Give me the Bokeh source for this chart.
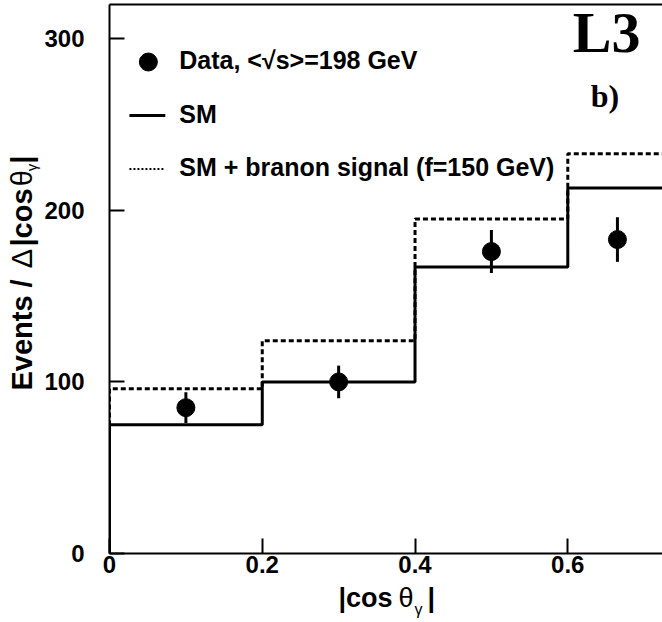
import math
from bokeh.plotting import figure
from bokeh.layouts import row, column
from bokeh.models import Range1d, FixedTicker, LinearAxis, ColumnDataSource
from bokeh.core.properties import value
from bokeh.embed import file_html
from bokeh.resources import INLINE

# ---- data ----
bin_edges = [0.0, 0.2, 0.4, 0.6, 0.8]
sm_values = [75, 100, 167, 213]
signal_values = [96, 124, 195, 233]
data_x = [0.1, 0.3, 0.5, 0.665]
data_y = [85, 100, 176, 183]
data_err = [9, 9.5, 12.5, 13]
x_ticks = [0, 0.2, 0.4, 0.6]
x_tick_labels = ["0", "0.2", "0.4", "0.6"]
y_ticks = [0, 100, 200, 300]
y_tick_labels = ["0", "100", "200", "300"]

XMAX = 0.724
YMAX = 320.0
W, H = 662, 622
WL = 41            # left strip (y-axis title)
HM = 583           # height of main row
FL, FR, FT, FB = 107, 662, 4, 553   # frame edges in page pixels
BASE = 0.4         # baseline correction (em) of the text renderer
YSHIFT = 12        # downward shift of the rotated title

def dx(px):
    return (px - FL) * XMAX / (FR - FL)

def dy(py):
    return (FB - py) * YMAX / (FB - FT)

def step_xy(edges, vals):
    xs = [edges[0]]
    ys = [0]
    for i, v in enumerate(vals):
        xs += [edges[i], edges[i + 1]]
        ys += [v, v]
    return xs, ys

def plain(fig):
    fig.outline_line_color = None
    fig.grid.visible = False
    fig.background_fill_color = "white"
    fig.border_fill_color = "white"

p = figure(width=W - WL, height=HM, x_range=Range1d(0, XMAX), y_range=Range1d(0, YMAX),
           output_backend="svg", toolbar_location=None)
p.min_border_left = FL - WL
p.min_border_right = 0
p.min_border_top = FT
p.min_border_bottom = HM - FB
plain(p)

for ax in (p.xaxis[0], p.yaxis[0]):
    ax.axis_line_width = 2
    ax.axis_line_color = "black"
    ax.major_tick_line_width = 2
    ax.major_tick_line_color = "black"
    ax.major_tick_in = 15
    ax.major_tick_out = 0
    ax.minor_tick_in = 0
    ax.minor_tick_out = 0
    ax.major_label_text_font = "Liberation Sans"
    ax.major_label_text_font_size = "24px"
    ax.major_label_text_font_style = "bold"
    ax.major_label_text_color = "black"

p.xaxis.ticker = FixedTicker(ticks=x_ticks)
p.xaxis.major_label_overrides = {t: l for t, l in zip(x_ticks, x_tick_labels)}
p.xaxis.major_label_standoff = 2
p.yaxis.ticker = FixedTicker(ticks=y_ticks)
p.yaxis.major_label_overrides = {t: l for t, l in zip(y_ticks, y_tick_labels)}
p.yaxis.major_label_standoff = 25

top = LinearAxis(ticker=FixedTicker(ticks=[]), axis_line_width=2, axis_line_color="black",
                 major_tick_in=0, major_tick_out=0, minor_tick_in=0, minor_tick_out=0,
                 major_label_text_font_size="0px", major_label_standoff=0)
p.add_layout(top, "above")

# histograms
sx, sy = step_xy(bin_edges, sm_values)
p.line(sx, sy, line_color="black", line_width=3)
gx, gy = step_xy(bin_edges, signal_values)
p.line(gx, gy, line_color="black", line_width=3, line_dash="5 3")

# data points with error bars
src = ColumnDataSource(dict(
    x=data_x, y=data_y,
    lo=[y - e for y, e in zip(data_y, data_err)],
    hi=[y + e for y, e in zip(data_y, data_err)],
))
p.segment(x0="x", y0="lo", x1="x", y1="hi", source=src, line_color="black", line_width=3)
p.scatter(x="x", y="y", source=src, size=18, marker="circle", fill_color="black", line_color="black")

# legend (manual)
p.scatter([dx(146)], [dy(61.5)], size=18, marker="circle", fill_color="black", line_color="black")
p.line([dx(127), dx(163)], [dy(115), dy(115)], line_color="black", line_width=3)
p.line([dx(127), dx(163)], [dy(168.5), dy(168.5)], line_color="black", line_width=2, line_dash="2 2")

def txt(fig, x, y, text, size, bold=True, font="Liberation Sans", angle=0.0):
    fig.text(x=[x], y=[y], text=[text], text_font=value(font), text_font_size=value(f"{size}px"),
             text_font_style="bold" if bold else "normal", text_color="black",
             text_align="left", text_baseline="alphabetic", angle=angle)

def ptxt(px, baseline_py, text, size, **kw):
    txt(p, dx(px), dy(baseline_py - BASE * size), text, size, **kw)

ptxt(177, 69, "Data, <√s>=198 GeV", 25)
ptxt(177, 123, "SM", 25)
ptxt(177, 176, "SM + branon signal (f=150 GeV)", 25)
ptxt(572, 55, "L3", 58, font="Liberation Serif")
ptxt(590, 108, "b)", 32, font="Liberation Serif")

# left strip with rotated y title
left = figure(width=WL, height=HM, x_range=Range1d(0, WL), y_range=Range1d(0, HM),
              output_backend="svg", toolbar_location=None,
              x_axis_location=None, y_axis_location=None, min_border=0)
plain(left)
A = math.pi / 2
def ltxt(baseline_px, start_py, text, size, **kw):
    txt(left, baseline_px - BASE * size, HM - (start_py + YSHIFT), text, size, angle=A, **kw)
ltxt(33, 398, "Events /", 29)
ltxt(33, 268, "Δ", 29, bold=False)
ltxt(33, 245, "|cos", 29)
ltxt(33, 181, "θ", 29, bold=False)
ltxt(37, 165, "γ", 15, bold=False)
ltxt(33, 157, "|", 29)

# bottom strip with x title
HB = H - HM
bottom = figure(width=W, height=HB, x_range=Range1d(0, W), y_range=Range1d(0, HB),
                output_backend="svg", toolbar_location=None,
                x_axis_location=None, y_axis_location=None, min_border=0)
plain(bottom)
def btxt(px, baseline_py, text, size, **kw):
    txt(bottom, px, H - (baseline_py - BASE * size), text, size, **kw)
btxt(338, 608, "|cos", 27)
btxt(398, 608, "θ", 27, bold=False)
btxt(414, 615, "γ", 16, bold=False)
btxt(427, 608, "|", 27)

layout = column(row(left, p), bottom)
open("out.html", "w").write(file_html(layout, INLINE))
